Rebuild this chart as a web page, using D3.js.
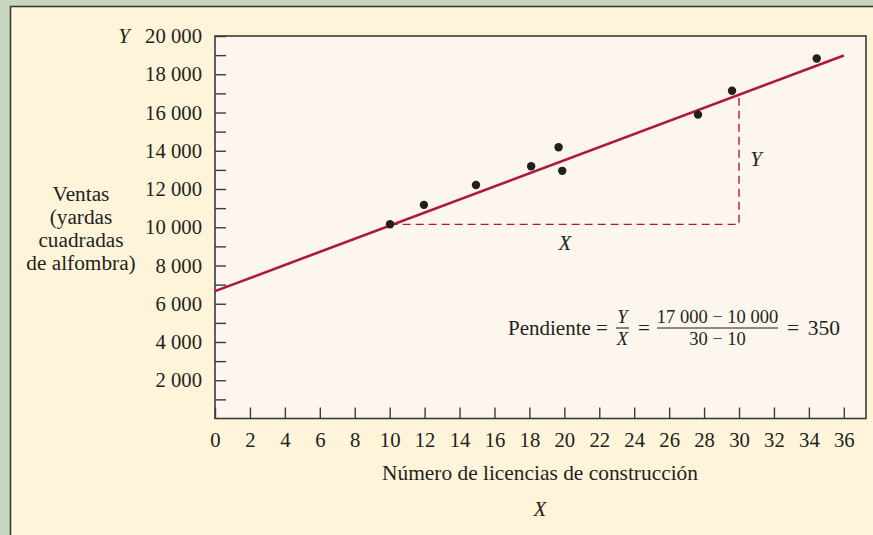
<!DOCTYPE html>
<html>
<head>
<meta charset="utf-8">
<script src="https://cdn.jsdelivr.net/npm/d3@7"></script>
<style>
  html, body { margin: 0; padding: 0; background: #c7d7bf; }
  svg { display: block; }
  text { font-family: "Liberation Serif", "Times New Roman", serif; fill: #231f20; }
</style>
</head>
<body>
<svg id="chart" width="873" height="535"></svg>
<script>
// ---- data ----
const permits = [10.02, 11.96, 14.94, 18.1, 19.67, 19.88, 27.65, 29.6, 34.45];
const sales   = [10160, 11170, 12210, 13190, 14180, 12950, 15890, 17140, 18820];
const fitX = [0, 36];
const fitY = [6660, 18980];
const triX = [10, 30];
const triYBase = 10150;
const xTicks = [0, 2, 4, 6, 8, 10, 12, 14, 16, 18, 20, 22, 24, 26, 28, 30, 32, 34, 36];
const yTicks = [1000, 2000, 3000, 4000, 5000, 6000, 7000, 8000, 9000, 10000,
                11000, 12000, 13000, 14000, 15000, 16000, 17000, 18000, 19000, 20000];
const yLabelLines = ["Ventas", "(yardas", "cuadradas", "de alfombra)"];
const xTitle = "Número de licencias de construcción";

const svg = d3.select("#chart");
const W = 873, H = 535;
const m = { left: 215, top: 36, right: 866, bottom: 418.5 };

// background panel
svg.append("rect").attr("x", 0).attr("y", 0).attr("width", W).attr("height", H).attr("fill", "#c7d7bf");
svg.append("rect").attr("x", 10.5).attr("y", 6.5).attr("width", W).attr("height", H)
  .attr("fill", "#fef4da").attr("stroke", "#3b3b3b").attr("stroke-width", 1.6);

const x = d3.scaleLinear().domain([0, 37.27]).range([m.left, m.right]);
const y = d3.scaleLinear().domain([0, 20000]).range([m.bottom, m.top]);

// plot area
svg.append("rect").attr("x", m.left).attr("y", m.top)
  .attr("width", m.right - m.left).attr("height", m.bottom - m.top)
  .attr("fill", "#fdf6ee");

const fmt = d3.formatLocale({ decimal: ",", thousands: " ", grouping: [3], currency: ["", ""] }).format(",d");

// axes
const yAxis = d3.axisLeft(y).tickValues(yTicks).tickSize(-11).tickPadding(13)
  .tickFormat(d => d % 2000 === 0 ? fmt(d) : "");
const gy = svg.append("g").attr("transform", `translate(${m.left},0)`).call(yAxis);
gy.select(".domain").remove();
gy.selectAll("line").attr("stroke", "#3b3b3b").attr("stroke-width", 1.4);
gy.selectAll("text").attr("font-size", 20.7).attr("font-family", "Liberation Serif").attr("fill", "#231f20");

const xAxis = d3.axisBottom(x).tickValues(xTicks).tickSize(-11).tickPadding(14).tickFormat(d3.format("d"));
const gx = svg.append("g").attr("transform", `translate(0,${m.bottom})`).call(xAxis);
gx.select(".domain").remove();
gx.selectAll("line").attr("stroke", "#3b3b3b").attr("stroke-width", 1.4);
gx.selectAll("text").attr("font-size", 20.7).attr("font-family", "Liberation Serif").attr("fill", "#231f20");

// plot frame
svg.append("rect").attr("x", m.left).attr("y", m.top)
  .attr("width", m.right - m.left).attr("height", m.bottom - m.top)
  .attr("fill", "none").attr("stroke", "#3b3b3b").attr("stroke-width", 1.6);

// fitted line
const fit = fitX.map((v, i) => [v, fitY[i]]);
const slope = (fitY[1] - fitY[0]) / (fitX[1] - fitX[0]);
const lineAt = v => fitY[0] + slope * (v - fitX[0]);

// slope triangle (dashed)
const tri = [[triX[0], triYBase], [triX[1], triYBase], [triX[1], lineAt(triX[1])]];
svg.append("path")
  .attr("d", d3.line().x(d => x(d[0])).y(d => y(d[1]))(tri))
  .attr("fill", "none").attr("stroke", "#b0173f").attr("stroke-width", 1.4)
  .attr("stroke-dasharray", "8,5");

svg.append("path")
  .attr("d", d3.line().x(d => x(d[0])).y(d => y(d[1]))(fit))
  .attr("fill", "none").attr("stroke", "#b0173f").attr("stroke-width", 2.6);

// points
svg.append("g").selectAll("circle").data(permits).join("circle")
  .attr("cx", d => x(d)).attr("cy", (d, i) => y(sales[i])).attr("r", 4.2)
  .attr("fill", "#231f20");

// labels
const italic = (px, py, t) => svg.append("text").attr("x", px).attr("y", py)
  .attr("font-size", 21).attr("font-style", "italic").attr("text-anchor", "middle").text(t);

italic(124, y(20000) + 7, "Y");
italic(756, 166, "Y");
italic(565, 250, "X");
italic(540, 516, "X");

svg.append("text").attr("x", 540).attr("y", 480).attr("font-size", 21.4)
  .attr("text-anchor", "middle").text(xTitle);

svg.append("text").attr("x", 81).attr("y", 201).attr("font-size", 21.3).attr("text-anchor", "middle")
  .selectAll("tspan").data(yLabelLines).join("tspan")
  .attr("x", 81).attr("dy", (d, i) => i === 0 ? 0 : 23).text(d => d);

// formula
const f = svg.append("g");
f.append("text").attr("x", 508).attr("y", 335).attr("font-size", 21).text("Pendiente =");
f.append("text").attr("x", 622.5).attr("y", 323).attr("font-size", 18.5).attr("font-style", "italic")
  .attr("text-anchor", "middle").text("Y");
f.append("text").attr("x", 622.5).attr("y", 345).attr("font-size", 18.5).attr("font-style", "italic")
  .attr("text-anchor", "middle").text("X");
f.append("line").attr("x1", 616).attr("x2", 629).attr("y1", 328).attr("y2", 328)
  .attr("stroke", "#231f20").attr("stroke-width", 1.1);
f.append("text").attr("x", 644).attr("y", 335).attr("font-size", 21).attr("text-anchor", "middle").text("=");
f.append("text").attr("x", 717.5).attr("y", 323).attr("font-size", 18.5)
  .attr("text-anchor", "middle").text("17 000 \u2212 10 000");
f.append("text").attr("x", 717.5).attr("y", 345).attr("font-size", 18.5)
  .attr("text-anchor", "middle").text("30 \u2212 10");
f.append("line").attr("x1", 657).attr("x2", 778).attr("y1", 328).attr("y2", 328)
  .attr("stroke", "#231f20").attr("stroke-width", 1.1);
f.append("text").attr("x", 787).attr("y", 335).attr("font-size", 21.5).text("=\u2009\u2009350");
</script>
</body>
</html>
